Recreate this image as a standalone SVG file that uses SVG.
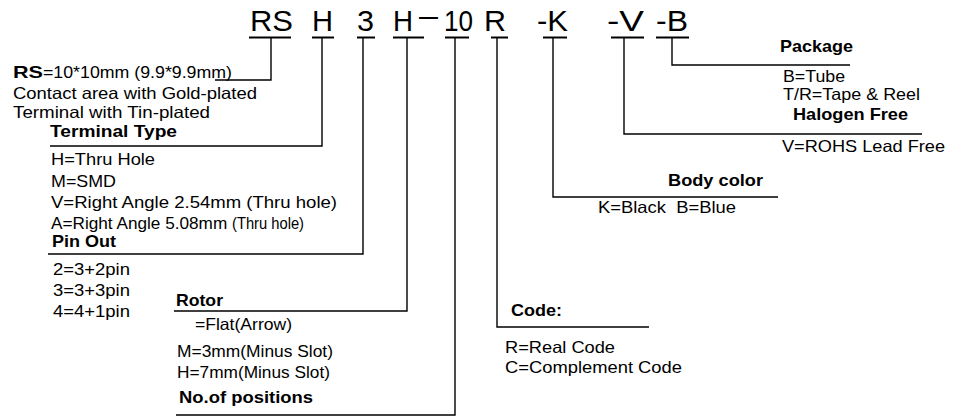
<svg xmlns="http://www.w3.org/2000/svg" width="956" height="417" viewBox="0 0 956 417">
<style>
text{font-family:"Liberation Sans",Arial,sans-serif;fill:#000}
.code{font-size:30px}
.t{font-size:16.5px}
.b{font-size:16.5px;font-weight:bold}
.ul{stroke:#000;stroke-width:2;fill:none}
.cn{stroke:#000;stroke-width:1.4;fill:none}
</style>
<rect width="956" height="417" fill="#fff"/>
<g id="code-row">
<text class="code" x="250" y="31" textLength="43" lengthAdjust="spacingAndGlyphs">RS</text>
<text class="code" x="312" y="31" textLength="21" lengthAdjust="spacingAndGlyphs">H</text>
<text class="code" x="357" y="31" textLength="17" lengthAdjust="spacingAndGlyphs">3</text>
<text class="code" x="393" y="31" textLength="20" lengthAdjust="spacingAndGlyphs">H</text>
<text class="code" x="419" y="26" textLength="19" lengthAdjust="spacingAndGlyphs">–</text>
<text class="code" x="444" y="31" textLength="29" lengthAdjust="spacingAndGlyphs">10</text>
<text class="code" x="484" y="31" textLength="22" lengthAdjust="spacingAndGlyphs">R</text>
<text class="code" x="537" y="31" textLength="31" lengthAdjust="spacingAndGlyphs">-K</text>
<text class="code" x="607" y="31" textLength="37" lengthAdjust="spacingAndGlyphs">-V</text>
<text class="code" x="656" y="31" textLength="32" lengthAdjust="spacingAndGlyphs">-B</text>
<line class="ul" x1="249" y1="37.5" x2="291" y2="37.5"/>
<line class="ul" x1="312" y1="37.5" x2="334" y2="37.5"/>
<line class="ul" x1="357" y1="37.5" x2="375" y2="37.5"/>
<line class="ul" x1="393" y1="37.5" x2="424" y2="37.5"/>
<line class="ul" x1="445" y1="37.5" x2="469" y2="37.5"/>
<line class="ul" x1="491" y1="37.5" x2="508" y2="37.5"/>
<line class="ul" x1="543" y1="37.5" x2="567" y2="37.5"/>
<line class="ul" x1="611" y1="37.5" x2="644" y2="37.5"/>
<line class="ul" x1="656" y1="37.5" x2="689" y2="37.5"/>
</g>
<g id="connectors">
<polyline class="cn" points="271,38 271,80 215,80"/>
<polyline class="cn" points="322,38 322,146 50,146"/>
<polyline class="cn" points="363,38 363,254 48,254"/>
<polyline class="cn" points="407,38 407,311 174,311"/>
<polyline class="cn" points="455,38 455,415 176,415"/>
<polyline class="cn" points="497,38 497,327 649,327"/>
<polyline class="cn" points="553,38 553,197 778,197"/>
<polyline class="cn" points="624,38 624,134 922,134"/>
<polyline class="cn" points="672,38 672,65 850,65"/>
</g>
<g id="node-rs">
<text x="13" y="78" class="t"><tspan class="b" textLength="30" lengthAdjust="spacingAndGlyphs">RS</tspan><tspan textLength="189" lengthAdjust="spacingAndGlyphs">=10*10mm (9.9*9.9mm)</tspan></text>
<text x="13" y="99" class="t" textLength="244" lengthAdjust="spacingAndGlyphs">Contact area with Gold-plated</text>
<text x="13" y="118" class="t" textLength="197" lengthAdjust="spacingAndGlyphs">Terminal with Tin-plated</text>
</g>
<g id="node-terminal-type">
<text x="50" y="137" class="b" textLength="127" lengthAdjust="spacingAndGlyphs">Terminal Type</text>
<text x="51" y="165" class="t" textLength="104" lengthAdjust="spacingAndGlyphs">H=Thru Hole</text>
<text x="51" y="187" class="t" textLength="65" lengthAdjust="spacingAndGlyphs">M=SMD</text>
<text x="51" y="208" class="t" textLength="286" lengthAdjust="spacingAndGlyphs">V=Right Angle 2.54mm (Thru hole)</text>
<text x="51" y="229" class="t"><tspan textLength="181" lengthAdjust="spacingAndGlyphs">A=Right Angle 5.08mm </tspan><tspan x="232" textLength="72" lengthAdjust="spacingAndGlyphs">(Thru hole)</tspan></text>
</g>
<g id="node-pin-out">
<text x="52" y="247" class="b" textLength="64" lengthAdjust="spacingAndGlyphs">Pin Out</text>
<text x="53" y="275" class="t" textLength="77" lengthAdjust="spacingAndGlyphs">2=3+2pin</text>
<text x="53" y="296" class="t" textLength="77" lengthAdjust="spacingAndGlyphs">3=3+3pin</text>
<text x="53" y="317" class="t" textLength="77" lengthAdjust="spacingAndGlyphs">4=4+1pin</text>
</g>
<g id="node-rotor">
<text x="176" y="306" class="b" textLength="47" lengthAdjust="spacingAndGlyphs">Rotor</text>
<text x="195" y="330" class="t" textLength="97" lengthAdjust="spacingAndGlyphs">=Flat(Arrow)</text>
<text x="177" y="357" class="t" textLength="156" lengthAdjust="spacingAndGlyphs">M=3mm(Minus Slot)</text>
<text x="177" y="378" class="t" textLength="153" lengthAdjust="spacingAndGlyphs">H=7mm(Minus Slot)</text>
</g>
<g id="node-positions">
<text x="179" y="403" class="b" textLength="134" lengthAdjust="spacingAndGlyphs">No.of positions</text>
</g>
<g id="node-code">
<text x="511" y="316" class="b" textLength="51" lengthAdjust="spacingAndGlyphs">Code:</text>
<text x="505" y="353" class="t" textLength="110" lengthAdjust="spacingAndGlyphs">R=Real Code</text>
<text x="505" y="373" class="t" textLength="177" lengthAdjust="spacingAndGlyphs">C=Complement Code</text>
</g>
<g id="node-body-color">
<text x="668" y="186" class="b" textLength="95" lengthAdjust="spacingAndGlyphs">Body color</text>
<text x="598" y="213" class="t" xml:space="preserve" textLength="138" lengthAdjust="spacingAndGlyphs">K=Black  B=Blue</text>
</g>
<g id="node-halogen">
<text x="793" y="120" class="b" textLength="115" lengthAdjust="spacingAndGlyphs">Halogen Free</text>
<text x="782" y="152" class="t" textLength="163" lengthAdjust="spacingAndGlyphs">V=ROHS Lead Free</text>
</g>
<g id="node-package">
<text x="780" y="52" class="b" textLength="73" lengthAdjust="spacingAndGlyphs">Package</text>
<text x="783" y="82" class="t" textLength="62" lengthAdjust="spacingAndGlyphs">B=Tube</text>
<text x="783" y="100" class="t" textLength="137" lengthAdjust="spacingAndGlyphs">T/R=Tape &amp; Reel</text>
</g>
</svg>
